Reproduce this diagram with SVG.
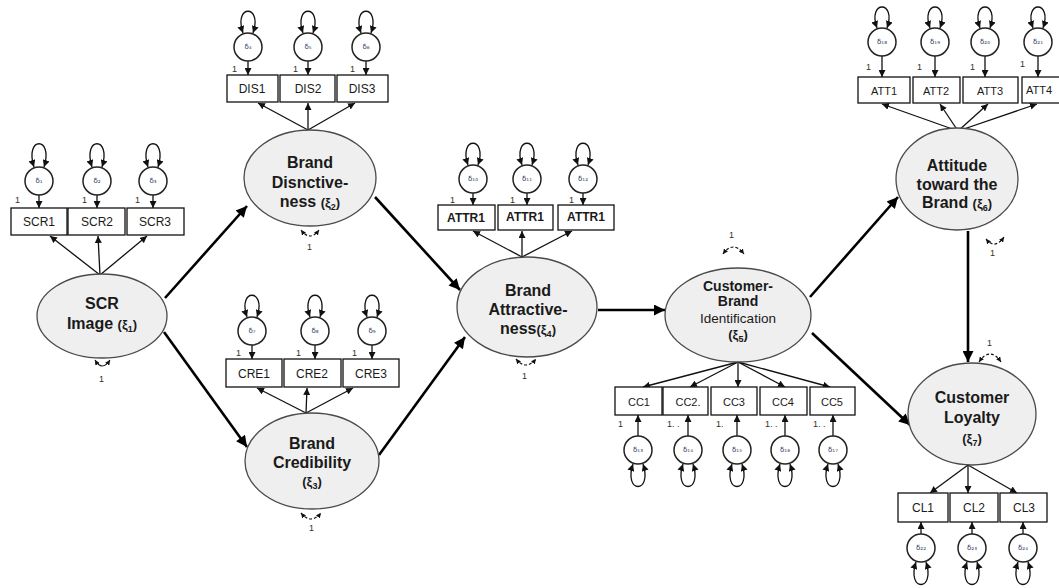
<svg xmlns="http://www.w3.org/2000/svg" width="1059" height="588" viewBox="0 0 1059 588">
  <style>
    .lat { fill:#efefef; stroke:#4a4a4a; stroke-width:1.3; }
    .box { fill:#ffffff; stroke:#111; stroke-width:1.3; }
    .err { fill:#ffffff; stroke:#222; stroke-width:1.5; }
    .thin { stroke:#111; stroke-width:1.3; fill:none; marker-end:url(#ah); }
    .thick { stroke:#000; stroke-width:2.6; fill:none; marker-end:url(#ahb); }
    .loop { fill:none; stroke:#111; stroke-width:1.3; marker-start:url(#ah); marker-end:url(#ah); }
    .dloop { fill:none; stroke:#111; stroke-width:1.2; stroke-dasharray:3 2; marker-start:url(#ahs); marker-end:url(#ahs); }
    .sloop { fill:none; stroke:#111; stroke-width:1.2; marker-start:url(#ahs); marker-end:url(#ahs); }
    .t { font-family:"Liberation Sans", Arial, sans-serif; fill:#1a1a1a; text-anchor:middle; }
    .big { font-size:16px; font-weight:bold; }
    .mid { font-size:14px; font-weight:bold; }
    .lbl { font-size:12px; }
    .one { font-family:"Liberation Sans", Arial, sans-serif; font-size:9px; fill:#3a3020; }
    .d { font-family:"DejaVu Sans", "Liberation Sans", sans-serif; font-size:7px; fill:#2a3a60; text-anchor:middle; }
  </style>
  <defs>
    <marker id="ah" viewBox="0 0 10 10" refX="10" refY="5" markerWidth="7" markerHeight="7" markerUnits="userSpaceOnUse" orient="auto-start-reverse">
      <path d="M0,0 L10,5 L0,10 z" fill="#111"/>
    </marker>
    <marker id="ahs" viewBox="0 0 10 10" refX="10" refY="5" markerWidth="5" markerHeight="5" markerUnits="userSpaceOnUse" orient="auto-start-reverse">
      <path d="M0,0 L10,5 L0,10 z" fill="#111"/>
    </marker>
    <marker id="ahb" viewBox="0 0 10 10" refX="10" refY="5" markerWidth="13" markerHeight="11" markerUnits="userSpaceOnUse" orient="auto">
      <path d="M0,0 L10,5 L0,10 z" fill="#000"/>
    </marker>
  </defs>

  <!-- structural paths between latent constructs -->
  <g id="connectors">
    <line class="thick" x1="165" y1="298" x2="247" y2="206"/>
    <line class="thick" x1="164" y1="332" x2="247" y2="447"/>
    <line class="thick" x1="375" y1="197" x2="460" y2="290"/>
    <line class="thick" x1="379" y1="455" x2="465" y2="337"/>
    <line class="thick" x1="598" y1="310" x2="665" y2="310"/>
    <line class="thick" x1="810" y1="297" x2="898" y2="197"/>
    <line class="thick" x1="812" y1="333" x2="910" y2="425"/>
    <line class="thick" x1="968" y1="231" x2="968" y2="362"/>

    <!-- loadings: latent to indicators -->
    <line class="thin" x1="100" y1="275" x2="50" y2="236"/>
    <line class="thin" x1="100" y1="275" x2="98" y2="236"/>
    <line class="thin" x1="100" y1="275" x2="147" y2="236"/>

    <line class="thin" x1="308" y1="130" x2="258" y2="103"/>
    <line class="thin" x1="308" y1="130" x2="308" y2="103"/>
    <line class="thin" x1="308" y1="130" x2="355" y2="103"/>

    <line class="thin" x1="306" y1="413" x2="257" y2="388"/>
    <line class="thin" x1="306" y1="413" x2="307" y2="388"/>
    <line class="thin" x1="306" y1="413" x2="353" y2="388"/>

    <line class="thin" x1="522" y1="257" x2="473" y2="231"/>
    <line class="thin" x1="522" y1="257" x2="522" y2="231"/>
    <line class="thin" x1="522" y1="257" x2="572" y2="231"/>

    <line class="thin" x1="958" y1="131" x2="882" y2="104"/>
    <line class="thin" x1="958" y1="131" x2="940" y2="104"/>
    <line class="thin" x1="958" y1="131" x2="988" y2="104"/>
    <line class="thin" x1="958" y1="131" x2="1037" y2="104"/>

    <line class="thin" x1="738" y1="362" x2="643" y2="387"/>
    <line class="thin" x1="738" y1="362" x2="690" y2="387"/>
    <line class="thin" x1="738" y1="362" x2="738" y2="387"/>
    <line class="thin" x1="738" y1="362" x2="785" y2="387"/>
    <line class="thin" x1="738" y1="362" x2="830" y2="387"/>

    <line class="thin" x1="968" y1="465" x2="930" y2="493"/>
    <line class="thin" x1="968" y1="465" x2="968" y2="493"/>
    <line class="thin" x1="968" y1="465" x2="1017" y2="493"/>

    <!-- error terms to indicators -->
    <line class="thin" x1="39" y1="195" x2="39" y2="208"/>
    <line class="thin" x1="97" y1="195" x2="97" y2="208"/>
    <line class="thin" x1="153" y1="195" x2="153" y2="208"/>

    <line class="thin" x1="248" y1="61" x2="248" y2="75"/>
    <line class="thin" x1="308" y1="61" x2="308" y2="75"/>
    <line class="thin" x1="366" y1="61" x2="366" y2="75"/>

    <line class="thin" x1="252" y1="345" x2="252" y2="359"/>
    <line class="thin" x1="315" y1="345" x2="315" y2="359"/>
    <line class="thin" x1="372" y1="345" x2="372" y2="359"/>

    <line class="thin" x1="473" y1="193" x2="473" y2="205"/>
    <line class="thin" x1="527" y1="193" x2="527" y2="205"/>
    <line class="thin" x1="583" y1="193" x2="583" y2="205"/>

    <line class="thin" x1="882" y1="56" x2="882" y2="77"/>
    <line class="thin" x1="935" y1="56" x2="935" y2="77"/>
    <line class="thin" x1="985" y1="56" x2="985" y2="77"/>
    <line class="thin" x1="1038" y1="56" x2="1038" y2="77"/>

    <line class="thin" x1="638" y1="436" x2="638" y2="415"/>
    <line class="thin" x1="688" y1="436" x2="688" y2="415"/>
    <line class="thin" x1="737" y1="436" x2="737" y2="415"/>
    <line class="thin" x1="785" y1="436" x2="785" y2="415"/>
    <line class="thin" x1="833" y1="436" x2="833" y2="415"/>

    <line class="thin" x1="921" y1="534" x2="921" y2="522"/>
    <line class="thin" x1="972" y1="534" x2="972" y2="522"/>
    <line class="thin" x1="1023" y1="534" x2="1023" y2="522"/>

    <!-- variance loops on error terms -->
    <path class="loop" d="M34,167 C24,136 54,136 44,167"/>
    <path class="loop" d="M92,167 C82,136 112,136 102,167"/>
    <path class="loop" d="M148,167 C138,136 168,136 158,167"/>

    <path class="loop" d="M243,33 C233,4 263,4 253,33"/>
    <path class="loop" d="M303,33 C293,4 323,4 313,33"/>
    <path class="loop" d="M361,33 C351,4 381,4 371,33"/>

    <path class="loop" d="M247,317 C237,288 267,288 257,317"/>
    <path class="loop" d="M310,317 C300,288 330,288 320,317"/>
    <path class="loop" d="M367,317 C357,288 387,288 377,317"/>

    <path class="loop" d="M468,165 C458,136 488,136 478,165"/>
    <path class="loop" d="M522,165 C512,136 542,136 532,165"/>
    <path class="loop" d="M578,165 C568,136 598,136 588,165"/>

    <path class="loop" d="M877,28 C867,0 897,0 887,28"/>
    <path class="loop" d="M930,28 C920,0 950,0 940,28"/>
    <path class="loop" d="M980,28 C970,0 1000,0 990,28"/>
    <path class="loop" d="M1033,28 C1023,0 1053,0 1043,28"/>

    <path class="loop" d="M633,464 C623,494 653,494 643,464"/>
    <path class="loop" d="M683,464 C673,494 703,494 693,464"/>
    <path class="loop" d="M732,464 C722,494 752,494 742,464"/>
    <path class="loop" d="M780,464 C770,494 800,494 790,464"/>
    <path class="loop" d="M828,464 C818,494 848,494 838,464"/>

    <path class="loop" d="M916,562 C906,592 936,592 926,562"/>
    <path class="loop" d="M967,562 C957,592 987,592 977,562"/>
    <path class="loop" d="M1018,562 C1008,592 1038,592 1028,562"/>

    <!-- variance loops on latent constructs -->
    <path class="sloop" d="M95,360 Q102,372 110,360"/>
    <path class="dloop" d="M301,230 Q310,242 319,230"/>
    <path class="dloop" d="M301,513 Q311,525 321,513"/>
    <path class="dloop" d="M516,359 Q526,371 536,359"/>
    <path class="dloop" d="M723,254 Q733,240 744,254"/>
    <path class="dloop" d="M986,239 Q995,250 1004,237"/>
    <path class="dloop" d="M979,362 Q990,346 1001,362"/>
  </g>

  <!-- small fixed-parameter labels -->
  <g id="fixed-labels">
    <text class="one" x="15" y="203">1</text>
    <text class="one" x="82" y="203">1</text>
    <text class="one" x="135" y="203">1</text>
    <text class="one" x="99" y="382">1</text>
    <text class="one" x="232" y="72">1</text>
    <text class="one" x="293" y="72">1</text>
    <text class="one" x="350" y="72">1</text>
    <text class="one" x="307" y="250">1</text>
    <text class="one" x="236" y="356">1</text>
    <text class="one" x="296" y="356">1</text>
    <text class="one" x="352" y="356">1</text>
    <text class="one" x="309" y="531">1</text>
    <text class="one" x="450" y="203">1</text>
    <text class="one" x="510" y="203">1</text>
    <text class="one" x="569" y="203">1</text>
    <text class="one" x="522" y="379">1</text>
    <text class="one" x="729" y="238">1</text>
    <text class="one" x="866" y="70">1</text>
    <text class="one" x="917" y="70">1</text>
    <text class="one" x="970" y="70">1</text>
    <text class="one" x="1020" y="67">1</text>
    <text class="one" x="990" y="256">1</text>
    <text class="one" x="987" y="346">1</text>
    <text class="one" x="618" y="427">1</text>
    <text class="one" x="667" y="427">1. .</text>
    <text class="one" x="716" y="427">1.</text>
    <text class="one" x="765" y="427">1. .</text>
    <text class="one" x="813" y="427">1. .</text>
  </g>

  <!-- SCR Image -->
  <g id="scr">
    <ellipse class="lat" cx="102" cy="316" rx="65" ry="42"/>
    <text class="t big" x="102" y="309">SCR</text>
    <text class="t big" x="102" y="329">Image <tspan font-size="13">(ξ<tspan font-size="9" dy="3">1</tspan><tspan dy="-3">)</tspan></tspan></text>
    <rect class="box" x="11" y="208" width="56" height="27"/>
    <rect class="box" x="68" y="208" width="57" height="27"/>
    <rect class="box" x="127" y="208" width="57" height="27"/>
    <text class="t lbl" x="39" y="226">SCR1</text>
    <text class="t lbl" x="97" y="226">SCR2</text>
    <text class="t lbl" x="155" y="226">SCR3</text>
    <circle class="err" cx="39" cy="181" r="14"/>
    <circle class="err" cx="97" cy="181" r="14"/>
    <circle class="err" cx="153" cy="181" r="14"/>
    <text class="d" x="39" y="183">δ₁</text>
    <text class="d" x="97" y="183">δ₂</text>
    <text class="d" x="153" y="183">δ₃</text>
  </g>

  <!-- Brand Distinctiveness -->
  <g id="dis">
    <ellipse class="lat" cx="310" cy="178" rx="66" ry="48"/>
    <text class="t big" x="310" y="168">Brand</text>
    <text class="t big" x="310" y="188">Disnctive-</text>
    <text class="t big" x="310" y="207">ness <tspan font-size="13">(ξ<tspan font-size="9" dy="3">2</tspan><tspan dy="-3">)</tspan></tspan></text>
    <rect class="box" x="227" y="75" width="51" height="27"/>
    <rect class="box" x="280" y="75" width="55" height="27"/>
    <rect class="box" x="337" y="75" width="51" height="27"/>
    <text class="t lbl" x="252" y="93">DIS1</text>
    <text class="t lbl" x="308" y="93">DIS2</text>
    <text class="t lbl" x="362" y="93">DIS3</text>
    <circle class="err" cx="248" cy="47" r="14"/>
    <circle class="err" cx="308" cy="47" r="14"/>
    <circle class="err" cx="366" cy="47" r="14"/>
    <text class="d" x="248" y="49">δ₄</text>
    <text class="d" x="308" y="49">δ₅</text>
    <text class="d" x="366" y="49">δ₆</text>
  </g>

  <!-- Brand Credibility -->
  <g id="cre">
    <ellipse class="lat" cx="312" cy="461" rx="67" ry="48"/>
    <text class="t big" x="312" y="449">Brand</text>
    <text class="t big" x="312" y="468">Credibility</text>
    <text class="t" x="312" y="486" font-size="13" font-weight="bold">(ξ<tspan font-size="9" dy="3">3</tspan><tspan dy="-3">)</tspan></text>
    <rect class="box" x="226" y="359" width="56" height="28"/>
    <rect class="box" x="284" y="359" width="57" height="28"/>
    <rect class="box" x="343" y="359" width="56" height="28"/>
    <text class="t lbl" x="254" y="378">CRE1</text>
    <text class="t lbl" x="312" y="378">CRE2</text>
    <text class="t lbl" x="371" y="378">CRE3</text>
    <circle class="err" cx="252" cy="331" r="14"/>
    <circle class="err" cx="315" cy="331" r="14"/>
    <circle class="err" cx="372" cy="331" r="14"/>
    <text class="d" x="252" y="333">δ₇</text>
    <text class="d" x="315" y="333">δ₈</text>
    <text class="d" x="372" y="333">δ₉</text>
  </g>

  <!-- Brand Attractiveness -->
  <g id="attr">
    <ellipse class="lat" cx="527" cy="307" rx="70" ry="50"/>
    <text class="t big" x="528" y="296">Brand</text>
    <text class="t big" x="528" y="315">Attractive-</text>
    <text class="t big" x="528" y="334">ness<tspan font-size="13">(ξ<tspan font-size="9" dy="3">4</tspan><tspan dy="-3">)</tspan></tspan></text>
    <rect class="box" x="438" y="205" width="57" height="25"/>
    <rect class="box" x="498" y="205" width="55" height="25"/>
    <rect class="box" x="558" y="205" width="56" height="25"/>
    <text class="t lbl" x="466" y="222" font-weight="bold" font-size="11">ATTR1</text>
    <text class="t lbl" x="525" y="221" font-weight="bold" font-size="11">ATTR1</text>
    <text class="t lbl" x="586" y="221" font-weight="bold" font-size="11">ATTR1</text>
    <circle class="err" cx="473" cy="179" r="14"/>
    <circle class="err" cx="527" cy="179" r="14"/>
    <circle class="err" cx="583" cy="179" r="14"/>
    <text class="d" x="473" y="181">δ₁₀</text>
    <text class="d" x="527" y="181">δ₁₁</text>
    <text class="d" x="583" y="181">δ₁₂</text>
  </g>

  <!-- Customer-Brand Identification -->
  <g id="cbi">
    <ellipse class="lat" cx="738" cy="315" rx="73" ry="47"/>
    <text class="t mid" x="738" y="291">Customer-</text>
    <text class="t mid" x="738" y="306">Brand</text>
    <text class="t" x="738" y="323" font-size="13.5">Identification</text>
    <text class="t" x="738" y="339" font-size="13" font-weight="bold">(ξ<tspan font-size="9" dy="3">5</tspan><tspan dy="-3">)</tspan></text>
    <rect class="box" x="615" y="387" width="47" height="28"/>
    <rect class="box" x="663" y="387" width="45" height="28"/>
    <rect class="box" x="711" y="387" width="46" height="28"/>
    <rect class="box" x="760" y="387" width="47" height="28"/>
    <rect class="box" x="810" y="387" width="45" height="28"/>
    <text class="t" x="639" y="406" font-size="11">CC1</text>
    <text class="t" x="688" y="406" font-size="11">CC2.</text>
    <text class="t" x="734" y="406" font-size="11">CC3</text>
    <text class="t" x="783" y="406" font-size="11">CC4</text>
    <text class="t" x="832" y="406" font-size="11">CC5</text>
    <circle class="err" cx="638" cy="450" r="14"/>
    <circle class="err" cx="688" cy="450" r="14"/>
    <circle class="err" cx="737" cy="450" r="14"/>
    <circle class="err" cx="785" cy="450" r="14"/>
    <circle class="err" cx="833" cy="450" r="14"/>
    <text class="d" x="638" y="452">δ₁₃</text>
    <text class="d" x="688" y="452">δ₁₄</text>
    <text class="d" x="737" y="452">δ₁₅</text>
    <text class="d" x="785" y="452">δ₁₆</text>
    <text class="d" x="833" y="452">δ₁₇</text>
  </g>

  <!-- Attitude toward the Brand -->
  <g id="att">
    <ellipse class="lat" cx="957" cy="179" rx="61" ry="51"/>
    <text class="t big" x="957" y="171">Attitude</text>
    <text class="t big" x="957" y="190">toward the</text>
    <text class="t big" x="957" y="208">Brand <tspan font-size="13">(ξ<tspan font-size="9" dy="3">6</tspan><tspan dy="-3">)</tspan></tspan></text>
    <rect class="box" x="858" y="77" width="52" height="26"/>
    <rect class="box" x="913" y="77" width="47" height="26"/>
    <rect class="box" x="963" y="77" width="55" height="26"/>
    <rect class="box" x="1022" y="77" width="40" height="26"/>
    <text class="t" x="884" y="95" font-size="11">ATT1</text>
    <text class="t" x="936" y="95" font-size="11">ATT2</text>
    <text class="t" x="990" y="95" font-size="11">ATT3</text>
    <text class="t" x="1039" y="94" font-size="11">ATT4</text>
    <circle class="err" cx="882" cy="42" r="14"/>
    <circle class="err" cx="935" cy="42" r="14"/>
    <circle class="err" cx="985" cy="42" r="14"/>
    <circle class="err" cx="1038" cy="42" r="14"/>
    <text class="d" x="882" y="44">δ₁₈</text>
    <text class="d" x="935" y="44">δ₁₉</text>
    <text class="d" x="985" y="44">δ₂₀</text>
    <text class="d" x="1038" y="44">δ₂₁</text>
  </g>

  <!-- Customer Loyalty -->
  <g id="loyalty">
    <ellipse class="lat" cx="972" cy="414" rx="64" ry="51"/>
    <text class="t big" x="972" y="403">Customer</text>
    <text class="t big" x="972" y="423">Loyalty</text>
    <text class="t" x="972" y="443" font-size="13" font-weight="bold">(ξ<tspan font-size="9" dy="3">7</tspan><tspan dy="-3">)</tspan></text>
    <rect class="box" x="898" y="493" width="50" height="29"/>
    <rect class="box" x="950" y="493" width="48" height="29"/>
    <rect class="box" x="1000" y="493" width="47" height="29"/>
    <text class="t lbl" x="923" y="512">CL1</text>
    <text class="t lbl" x="974" y="512">CL2</text>
    <text class="t lbl" x="1024" y="512">CL3</text>
    <circle class="err" cx="921" cy="548" r="14"/>
    <circle class="err" cx="972" cy="548" r="14"/>
    <circle class="err" cx="1023" cy="548" r="14"/>
    <text class="d" x="921" y="550">δ₂₂</text>
    <text class="d" x="972" y="550">δ₂₃</text>
    <text class="d" x="1023" y="550">δ₂₄</text>
  </g>
</svg>
